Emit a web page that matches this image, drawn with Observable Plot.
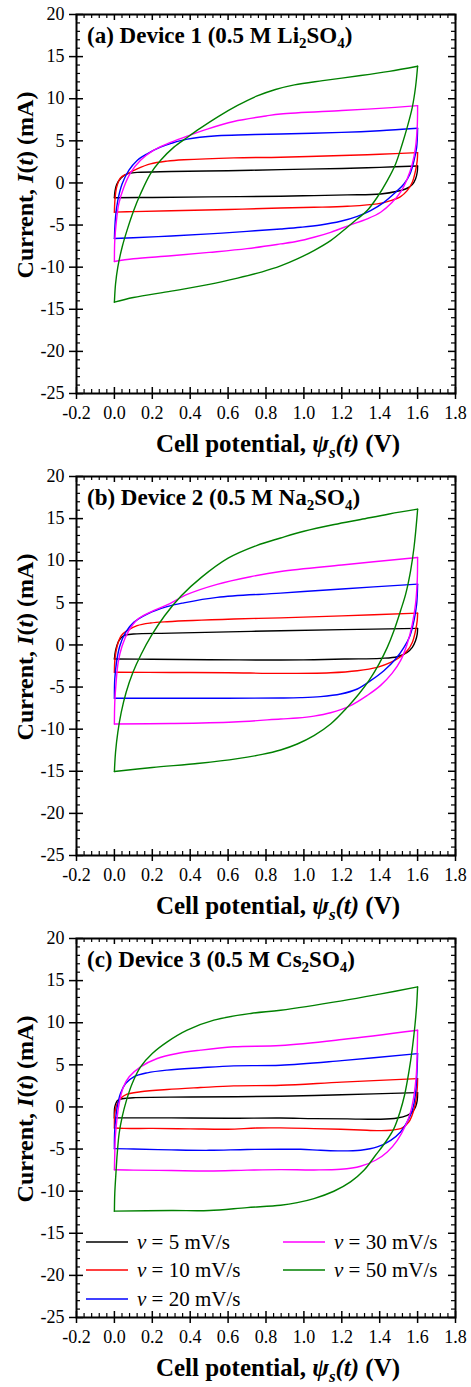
<!DOCTYPE html>
<html><head><meta charset="utf-8">
<script src="https://cdn.jsdelivr.net/npm/d3@7"></script>
<script src="https://cdn.jsdelivr.net/npm/@observablehq/plot@0.6"></script>
<style>
body{margin:0;background:#fff;}
#chart{width:471px;}
.panel{position:relative;width:471px;height:462px;}
svg{display:block;}
</style></head><body><div id="chart"></div>
<script>
// ---------- categories / ticks ----------
const rates = ["5", "10", "20", "30", "50"];               // scan rate, mV/s
const colors = ["#000000", "#ff0000", "#0000ff", "#ff00ff", "#008000"];
const xTicks = [-0.2, 0.0, 0.2, 0.4, 0.6, 0.8, 1.0, 1.2, 1.4, 1.6, 1.8];
const yTicks = [-25, -20, -15, -10, -5, 0, 5, 10, 15, 20];
const panelTags = ["(a)", "(b)", "(c)"];
const devices = ["Device 1", "Device 2", "Device 3"];
const cations = ["Li", "Na", "Cs"];

// ---------- data: [potential (V), current (mA)] along each CV loop ----------
// Device 1 (0.5 M Li2SO4)
const dev1_5 = [[0,-1.76],[0.003,-1.0],[0.012,-0.2],[0.035,0.6],[0.07,1.1],[0.12,1.25],[0.3,1.35],[0.6,1.45],[0.877,1.58],[1.2,1.72],[1.4,1.85],[1.6,2.02],[1.598,1.27],[1.589,0.47],[1.572,-0.2],[1.545,-0.63],[1.493,-0.99],[1.405,-1.31],[1.229,-1.42],[1.053,-1.5],[0.877,-1.58],[0.5,-1.65],[0.2,-1.72],[0,-1.76]];
const dev1_10 = [[0,-3.47],[0.003,-2.0],[0.012,-0.5],[0.032,0.6],[0.067,1.08],[0.12,1.68],[0.19,2.27],[0.278,2.59],[0.366,2.75],[0.63,2.98],[0.877,3.05],[1.2,3.25],[1.4,3.4],[1.6,3.6],[1.598,2.65],[1.589,1.46],[1.572,0.08],[1.545,-0.91],[1.51,-1.62],[1.458,-2.1],[1.387,-2.49],[1.229,-2.77],[1.053,-2.89],[0.877,-2.97],[0.6,-3.15],[0.3,-3.3],[0.1,-3.4],[0,-3.47]];
const dev1_20 = [[0,-6.6],[0.006,-4.06],[0.018,-2.08],[0.041,-0.1],[0.076,1.48],[0.12,2.67],[0.173,3.46],[0.243,4.25],[0.3,4.7],[0.384,5.2],[0.543,5.6],[0.7,5.72],[0.877,5.82],[1.2,6.0],[1.4,6.2],[1.6,6.49],[1.595,4.23],[1.581,2.65],[1.56,1.07],[1.528,-0.12],[1.484,-1.1],[1.422,-2.3],[1.352,-3.28],[1.282,-3.96],[1.194,-4.55],[1.088,-4.99],[0.983,-5.26],[0.877,-5.46],[0.7,-5.75],[0.5,-6.05],[0.3,-6.3],[0.1,-6.5],[0,-6.6]];
const dev1_30 = [[0,-9.32],[0.002,-6.83],[0.011,-4.46],[0.023,-2.48],[0.05,-0.5],[0.085,1.2],[0.138,2.7],[0.208,3.9],[0.278,4.65],[0.384,5.55],[0.49,6.4],[0.63,7.3],[0.8,7.95],[0.877,8.19],[1.2,8.6],[1.4,8.85],[1.6,9.18],[1.598,6.6],[1.589,4.23],[1.572,2.26],[1.545,0.47],[1.51,-1.1],[1.466,-2.3],[1.405,-3.48],[1.334,-4.27],[1.246,-4.98],[1.141,-5.86],[1.053,-6.45],[0.965,-6.93],[0.877,-7.24],[0.7,-7.8],[0.5,-8.25],[0.3,-8.65],[0.1,-9.0],[0,-9.32]];
const dev1_50 = [[0,-14.15],[0.006,-12.0],[0.018,-10],[0.041,-7.6],[0.067,-5.6],[0.102,-3.27],[0.138,-1.29],[0.19,1.08],[0.243,2.67],[0.314,4.25],[0.384,5.4],[0.454,6.5],[0.55,7.9],[0.65,9.2],[0.75,10.3],[0.85,11.1],[0.95,11.65],[1.1,12.15],[1.3,12.75],[1.45,13.25],[1.6,13.85],[1.589,11.36],[1.572,8.98],[1.545,6.6],[1.519,4.63],[1.484,2.26],[1.44,0.28],[1.387,-1.7],[1.334,-3.28],[1.282,-4.27],[1.229,-5.26],[1.141,-6.85],[1.053,-8.03],[0.965,-9.02],[0.877,-9.85],[0.78,-10.55],[0.65,-11.3],[0.5,-12.05],[0.3,-12.85],[0.1,-13.6],[0,-14.15]];
// Device 2 (0.5 M Na2SO4)
const dev2_5 = [[0,-1.67],[0.006,-0.68],[0.024,0.51],[0.05,1.1],[0.1,1.3],[0.3,1.4],[0.6,1.55],[0.877,1.69],[1.2,1.82],[1.6,1.97],[1.598,1.29],[1.589,0.5],[1.572,-0.29],[1.545,-0.88],[1.493,-1.4],[1.405,-1.59],[1.229,-1.67],[1.053,-1.75],[0.877,-1.79],[0.5,-1.75],[0.2,-1.7],[0,-1.67]];
const dev2_10 = [[0,-3.25],[0.003,-1.67],[0.015,-0.09],[0.036,1.1],[0.067,1.69],[0.12,2.29],[0.19,2.6],[0.278,2.76],[0.63,3.08],[0.877,3.22],[1.2,3.45],[1.6,3.78],[1.598,2.88],[1.589,1.69],[1.572,0.3],[1.545,-0.69],[1.51,-1.4],[1.458,-2.08],[1.387,-2.66],[1.282,-3.06],[1.141,-3.3],[0.877,-3.38],[0.6,-3.3],[0.3,-3.27],[0,-3.25]];
const dev2_20 = [[0,-6.33],[0.002,-4.04],[0.011,-2.06],[0.029,-0.09],[0.059,1.49],[0.102,2.68],[0.173,3.67],[0.278,4.55],[0.366,5.0],[0.542,5.65],[0.877,6.15],[1.2,6.65],[1.6,7.22],[1.595,4.85],[1.581,2.88],[1.56,1.1],[1.528,-0.29],[1.484,-1.67],[1.422,-3.06],[1.352,-4.24],[1.282,-5.23],[1.194,-5.83],[1.088,-6.14],[0.983,-6.26],[0.877,-6.3],[0.5,-6.33],[0,-6.33]];
const dev2_30 = [[0,-9.38],[0.002,-6.81],[0.009,-4.44],[0.02,-2.06],[0.041,-0.09],[0.076,1.69],[0.12,3.0],[0.19,3.9],[0.278,4.75],[0.384,6.0],[0.542,7.2],[0.718,8.1],[0.877,8.72],[1.2,9.5],[1.6,10.39],[1.598,7.61],[1.589,4.85],[1.572,2.48],[1.545,0.11],[1.51,-1.87],[1.466,-3.35],[1.405,-4.8],[1.334,-6.0],[1.246,-7.2],[1.141,-8.05],[1.053,-8.45],[0.965,-8.67],[0.877,-8.79],[0.63,-9.15],[0.3,-9.33],[0,-9.38]];
const dev2_50 = [[0,-15.03],[0.006,-12.74],[0.018,-10.37],[0.036,-8.0],[0.062,-5.62],[0.098,-3.25],[0.142,-1.08],[0.195,1.1],[0.265,3.47],[0.353,5.84],[0.459,8.02],[0.6,10.3],[0.75,11.8],[0.877,12.7],[1.0,13.5],[1.16,14.3],[1.3,14.9],[1.45,15.55],[1.6,16.12],[1.598,15.5],[1.581,11.57],[1.563,8.8],[1.537,6.03],[1.51,4.06],[1.475,1.69],[1.44,-0.29],[1.396,-2.27],[1.343,-4.24],[1.29,-5.83],[1.229,-7.41],[1.141,-9.39],[1.053,-10.77],[0.965,-11.76],[0.877,-12.47],[0.78,-13.0],[0.65,-13.5],[0.45,-14.05],[0.2,-14.55],[0,-15.03]];
// Device 3 (0.5 M Cs2SO4)
const dev3_5 = [[0,-1.3],[0.002,0.0],[0.018,0.8],[0.05,1.0],[0.1,1.1],[0.4,1.18],[0.877,1.27],[1.2,1.45],[1.6,1.7],[1.598,0.79],[1.589,0.0],[1.572,-0.59],[1.545,-0.99],[1.493,-1.31],[1.405,-1.46],[1.229,-1.42],[1.053,-1.39],[0.877,-1.31],[0.6,-1.35],[0.3,-1.3],[0,-1.3]];
const dev3_10 = [[0,-2.5],[0.002,-0.78],[0.011,0.21],[0.032,1.0],[0.067,1.52],[0.138,1.8],[0.278,2.07],[0.454,2.3],[0.63,2.5],[0.877,2.57],[1.2,2.95],[1.6,3.36],[1.598,2.18],[1.591,0.79],[1.577,-0.59],[1.554,-1.78],[1.519,-2.49],[1.458,-2.77],[1.387,-2.81],[1.299,-2.73],[1.194,-2.65],[1.053,-2.57],[0.877,-2.49],[0.75,-2.5],[0.6,-2.65],[0.4,-2.6],[0.2,-2.55],[0.05,-2.55],[0,-2.5]];
const dev3_20 = [[0,-4.95],[0.001,-3.15],[0.006,-1.57],[0.015,0.0],[0.032,1.6],[0.059,2.79],[0.102,3.58],[0.173,4.05],[0.278,4.37],[0.454,4.65],[0.63,4.88],[0.877,4.95],[1.2,5.5],[1.6,6.33],[1.596,3.76],[1.588,1.39],[1.572,-0.4],[1.545,-1.78],[1.51,-2.97],[1.458,-3.96],[1.387,-4.75],[1.299,-5.14],[1.194,-5.22],[1.088,-5.14],[0.983,-5.03],[0.877,-5.03],[0.7,-5.05],[0.5,-5.15],[0.3,-5.1],[0.1,-5.0],[0,-4.95]];
const dev3_30 = [[0,-7.45],[0.002,-5.52],[0.005,-3.55],[0.013,-1.57],[0.025,0.41],[0.048,2.39],[0.078,3.58],[0.138,4.76],[0.226,5.75],[0.331,6.35],[0.454,6.74],[0.63,7.14],[0.877,7.3],[1.2,8.0],[1.6,9.1],[1.598,6.53],[1.593,3.76],[1.581,1.39],[1.563,-0.59],[1.537,-2.18],[1.493,-3.96],[1.44,-5.34],[1.378,-6.33],[1.299,-7.04],[1.194,-7.4],[1.053,-7.48],[0.877,-7.44],[0.7,-7.5],[0.5,-7.6],[0.3,-7.55],[0.1,-7.5],[0,-7.45]];
const dev3_50 = [[0,-12.37],[0.002,-10.27],[0.008,-7.9],[0.015,-5.52],[0.025,-3.15],[0.041,-1.17],[0.064,0.81],[0.094,2.79],[0.138,4.76],[0.2,6.35],[0.279,7.73],[0.384,9.12],[0.525,10.3],[0.72,11.1],[0.877,11.48],[1.2,12.6],[1.4,13.4],[1.6,14.25],[1.595,12.07],[1.586,9.7],[1.572,6.93],[1.554,4.16],[1.531,1.39],[1.507,-0.59],[1.475,-2.57],[1.431,-4.16],[1.378,-5.74],[1.317,-7.52],[1.246,-8.9],[1.158,-10.01],[1.053,-10.88],[0.965,-11.36],[0.877,-11.67],[0.7,-11.95],[0.5,-12.3],[0.3,-12.3],[0,-12.37]];

const panels = [
  [dev1_5, dev1_10, dev1_20, dev1_30, dev1_50],
  [dev2_5, dev2_10, dev2_20, dev2_30, dev2_50],
  [dev3_5, dev3_10, dev3_20, dev3_30, dev3_50]
];

// ---------- drawing ----------
const FONT = "'Liberation Serif','Times New Roman',Times,serif";
const W = 471, H = 462, mL = 76, mR = 16, mT = 14, mB = 69;
const iw = W - mL - mR, ih = H - mT - mB;
const isMajor = (d, step) => Math.abs(Math.round(d / step) * step - d) < 1e-6;
const xMinor = d3.range(0, 51).map(i => -0.2 + i * 0.04).filter(d => !isMajor(d + 0.2, 0.2));
const yMinor = d3.range(-25, 21).filter(d => d % 5 !== 0);

function makePanel(p) {
  const loops = panels[p];
  // split each loop into forward (anodic) and reverse (cathodic) sweeps at the vertex
  const data = loops.flatMap((pts, k) => {
    let vi = 0;
    pts.forEach((d, i) => { if (d[0] > pts[vi][0]) vi = i; });
    const fwd = pts.slice(0, vi + 1).map(([v, c]) => ({v, c, rate: rates[k], seg: rates[k] + "f"}));
    const rev = pts.slice(vi).map(([v, c]) => ({v, c, rate: rates[k], seg: rates[k] + "r"}));
    return fwd.concat(rev);
  });
  const svg = Plot.plot({
    width: W, height: H,
    marginLeft: mL, marginRight: mR, marginTop: mT, marginBottom: mB,
    style: {fontFamily: FONT, fontSize: "18px", color: "#000", background: "#fff", overflow: "visible"},
    x: {domain: [-0.2, 1.8]},
    y: {domain: [-25, 20]},
    color: {domain: rates, range: colors},
    marks: [
      Plot.line(data, {x: "v", y: "c", z: "seg", stroke: "rate", strokeWidth: 1.4, curve: "catmull-rom"}),
      // inward ticks
      Plot.tickX(xTicks, {x: d => d, insetTop: ih - 6, strokeWidth: 1.5}),
      Plot.tickX(xTicks, {x: d => d, insetBottom: ih - 6, strokeWidth: 1.5}),
      Plot.tickX(xMinor, {x: d => d, insetTop: ih - 4, strokeWidth: 1.2}),
      Plot.tickX(xMinor, {x: d => d, insetBottom: ih - 4, strokeWidth: 1.2}),
      Plot.tickY(yTicks, {y: d => d, insetRight: iw - 7, strokeWidth: 1.5}),
      Plot.tickY(yTicks, {y: d => d, insetLeft: iw - 7, strokeWidth: 1.5}),
      Plot.tickY(yMinor, {y: d => d, insetRight: iw - 4, strokeWidth: 1.2}),
      Plot.tickY(yMinor, {y: d => d, insetLeft: iw - 4, strokeWidth: 1.2}),
      // outward ticks + labels
      Plot.axisX({ticks: xTicks, tickSize: 6, tickPadding: 7, strokeWidth: 1.5, label: null,
        tickFormat: d => d.toFixed(1), fontSize: 18}),
      Plot.axisY({ticks: yTicks, tickSize: 7, tickPadding: 5, strokeWidth: 1.5, label: null,
        tickFormat: d => String(d), fontSize: 18}),
      Plot.frame({stroke: "#000", strokeWidth: 2})
    ]
  });

  const s = d3.select(svg);
  // panel title
  const t = s.append("text").attr("x", 87).attr("y", 43).attr("text-anchor", "start")
    .attr("font-family", FONT).attr("font-size", 23).attr("font-weight", "bold").attr("fill", "#000");
  t.append("tspan").text(`${panelTags[p]} ${devices[p]} (0.5 M ${cations[p]}`);
  t.append("tspan").attr("font-size", 15).attr("dy", 5).text("2");
  t.append("tspan").attr("dy", -5).text("SO");
  t.append("tspan").attr("font-size", 15).attr("dy", 5).text("4");
  t.append("tspan").attr("dy", -5).text(")");

  // x-axis label
  const xl = s.append("text").attr("x", 278).attr("y", 452).attr("text-anchor", "middle")
    .attr("font-family", FONT).attr("font-size", 25).attr("font-weight", "bold").attr("fill", "#000");
  xl.append("tspan").text("Cell potential, ");
  xl.append("tspan").attr("font-style", "italic").text("ψ");
  xl.append("tspan").attr("font-style", "italic").attr("font-size", 17).attr("dy", 6).text("s");
  xl.append("tspan").attr("font-style", "italic").attr("dy", -6).text("(t)");
  xl.append("tspan").text(" (V)");

  // y-axis label
  const yl = s.append("text").attr("transform", "translate(33,185) rotate(-90)").attr("text-anchor", "middle")
    .attr("font-family", FONT).attr("font-size", 24).attr("font-weight", "bold").attr("fill", "#000");
  yl.append("tspan").text("Current, ");
  yl.append("tspan").attr("font-style", "italic").text("I");
  yl.append("tspan").text("(");
  yl.append("tspan").attr("font-style", "italic").text("t");
  yl.append("tspan").text(") (mA)");

  if (p === 2) {
    const slots = [[86, 318], [86, 346], [86, 375], [283, 318], [283, 346]];
    rates.forEach((r, k) => {
      const [lx, ly] = slots[k];
      s.append("line").attr("x1", lx).attr("x2", lx + 42).attr("y1", ly).attr("y2", ly)
        .attr("stroke", colors[k]).attr("stroke-width", 1.5);
      const tx = s.append("text").attr("x", lx + 51).attr("y", ly + 7).attr("text-anchor", "start")
        .attr("font-family", FONT).attr("font-size", 21).attr("fill", "#000");
      tx.append("tspan").attr("font-style", "italic").text("ν");
      tx.append("tspan").text(` = ${r} mV/s`);
    });
  }

  const div = document.createElement("div");
  div.className = "panel";
  div.appendChild(svg);
  return div;
}

const chart = document.getElementById("chart");
[0, 1, 2].forEach(p => chart.appendChild(makePanel(p)));
</script>
</body></html>
